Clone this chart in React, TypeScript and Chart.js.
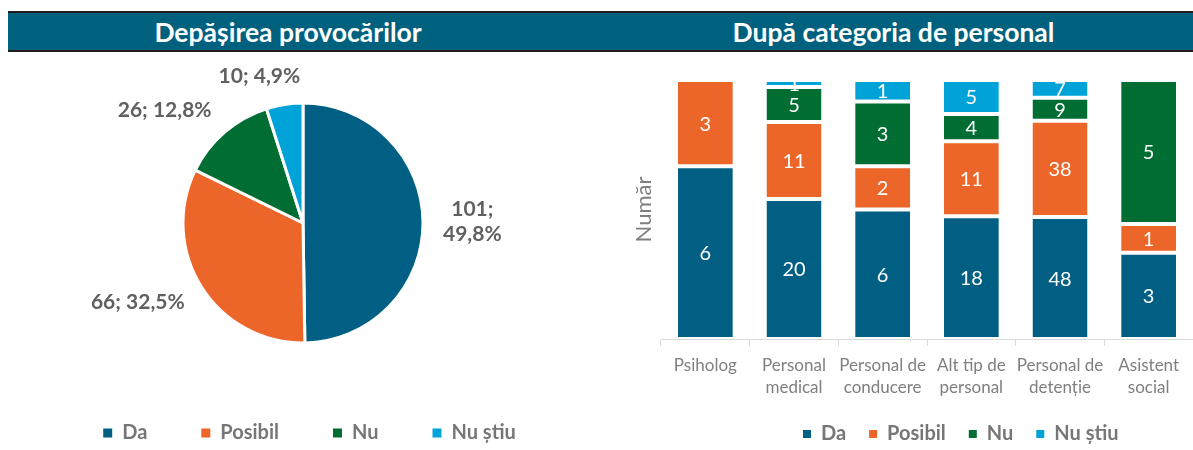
import React, { useEffect, useRef } from "react";
import { Chart, registerables } from "chart.js";

Chart.register(...registerables);

// ---------- data ----------
const SERIES = ["Da", "Posibil", "Nu", "Nu știu"];
const SERIES_COLORS = ["#005f83", "#ec6529", "#006e33", "#00a3d8"];

const PIE_TITLE = "Depășirea provocărilor";
const PIE_VALUES = [101, 66, 26, 10];

const BAR_TITLE = "După categoria de personal";
const BAR_Y_TITLE = "Număr";
const CATEGORIES = [
  ["Psiholog"],
  ["Personal", "medical"],
  ["Personal de", "conducere"],
  ["Alt tip de", "personal"],
  ["Personal de", "detenție"],
  ["Asistent", "social"],
];
const DA = [6, 20, 6, 18, 48, 3];
const POSIBIL = [3, 11, 2, 11, 38, 1];
const NU = [0, 5, 3, 4, 9, 5];
const NU_STIU = [0, 1, 1, 5, 7, 0];
const BAR_SERIES = [DA, POSIBIL, NU, NU_STIU];

// ---------- styles ----------
const FONT = "Lato, 'Open Sans', sans-serif";
const HEADER_BG = "#00617f";
const LEGEND_GREY = "#767676";
const LABEL_GREY = "#606060";
const AXIS_GREY = "#7f7f7f";

const legendShift = {
  id: "legendShift",
  afterLayout(chart: any, _args: any, opts: any) {
    const l = chart.legend;
    if (!l || !opts) return;
    const dx = opts.dx || 0;
    const dy = opts.dy || 0;
    l.left += dx;
    l.right += dx;
    l.top += dy;
    l.bottom += dy;
  },
};

const pieLabels = {
  id: "pieLabels",
  afterDatasetsDraw(chart: any) {
    const ctx = chart.ctx;
    const meta = chart.getDatasetMeta(0);
    const data = chart.data.datasets[0].data as number[];
    const total = data.reduce((a, b) => a + b, 0);
    const lh = 25;
    ctx.save();
    ctx.font = `bold 21px ${FONT}`;
    ctx.fillStyle = LABEL_GREY;
    ctx.textAlign = "center";
    ctx.textBaseline = "middle";
    meta.data.forEach((arc: any, i: number) => {
      const { x, y, startAngle, endAngle, outerRadius } = arc.getProps(
        ["x", "y", "startAngle", "endAngle", "outerRadius"],
        true
      );
      const mid = (startAngle + endAngle) / 2;
      const c = Math.cos(mid);
      const s = Math.sin(mid);
      const pct = ((data[i] / total) * 100).toFixed(1).replace(".", ",");
      const sideways = Math.abs(c) > 0.95;
      const lines = sideways ? [`${data[i]};`, `${pct}%`] : [`${data[i]}; ${pct}%`];
      const w = Math.max(...lines.map((t) => ctx.measureText(t).width));
      const h = lines.length * lh;
      const fx = Math.sign(c) * Math.min(1, Math.abs(c) * 3.5);
      const cx = x + (outerRadius + 20) * c + (w / 2) * fx;
      const cy = y + (outerRadius + 16) * s + (h / 2) * s;
      lines.forEach((t, k) => ctx.fillText(t, cx, cy - h / 2 + lh / 2 + k * lh));
    });
    ctx.restore();
  },
};

const barLabels = {
  id: "barLabels",
  afterDatasetsDraw(chart: any) {
    const ctx = chart.ctx;
    ctx.save();
    ctx.font = `20px ${FONT}`;
    ctx.fillStyle = "#ffffff";
    ctx.textAlign = "center";
    ctx.textBaseline = "middle";
    chart.data.datasets.forEach((_ds: any, di: number) => {
      const meta = chart.getDatasetMeta(di);
      const counts = BAR_SERIES[di];
      meta.data.forEach((bar: any, i: number) => {
        if (!counts[i]) return;
        const { x, y, base } = bar.getProps(["x", "y", "base"], true);
        ctx.fillText(String(counts[i]), x, (y + base) / 2 + 1);
      });
    });
    ctx.restore();
  },
};

export default function App() {
  const pieRef = useRef<HTMLCanvasElement>(null);
  const barRef = useRef<HTMLCanvasElement>(null);

  useEffect(() => {
    const pieDefaultLabels = (Chart as any).overrides.pie.plugins.legend.labels.generateLabels;
    const pie = new Chart(pieRef.current!, {
      type: "pie",
      data: {
        labels: SERIES,
        datasets: [
          {
            data: PIE_VALUES,
            backgroundColor: SERIES_COLORS,
            borderColor: "#ffffff",
            borderWidth: 3,
            radius: 120,
          } as any,
        ],
      },
      options: {
        animation: false,
        responsive: true,
        maintainAspectRatio: false,
        layout: { padding: { top: 22, left: 6, right: 0, bottom: 0 } },
        plugins: {
          legend: {
            position: "bottom",
            labels: {
              boxWidth: 9,
              boxHeight: 9,
              padding: 54,
              color: LEGEND_GREY,
              font: { family: FONT, size: 20, weight: "bold" },
              generateLabels: (c: any) =>
                pieDefaultLabels(c).map((l: any) => ({ ...l, lineWidth: 0 })),
            },
          },
          tooltip: { enabled: false },
          legendShift: { dx: 6.5, dy: 0 },
        } as any,
      },
      plugins: [pieLabels, legendShift],
    });

    const totals = CATEGORIES.map((_, i) => BAR_SERIES.reduce((a, s) => a + s[i], 0));
    const barDefaultLabels = (Chart as any).defaults.plugins.legend.labels.generateLabels;
    const bar = new Chart(barRef.current!, {
      type: "bar",
      data: {
        labels: CATEGORIES,
        datasets: BAR_SERIES.map((vals, k) => ({
          label: SERIES[k],
          data: vals.map((v, i) => (v ? (v / totals[i]) * 100 : null)),
          backgroundColor: SERIES_COLORS[k],
          borderColor: "#ffffff",
          borderWidth: { top: 2, bottom: 2, left: 0, right: 0 },
          borderSkipped: false,
          barPercentage: 0.62,
          categoryPercentage: 1,
        })) as any,
      },
      options: {
        animation: false,
        responsive: true,
        maintainAspectRatio: false,
        layout: { padding: { left: 26.6, top: 25, right: 0, bottom: 0 } },
        scales: {
          x: {
            stacked: true,
            grid: {
              display: true,
              drawOnChartArea: false,
              drawTicks: true,
              tickLength: 7,
              color: "#d9d9d9",
              offset: true,
            },
            border: { display: true, color: "#d9d9d9" },
            ticks: {
              color: AXIS_GREY,
              font: { family: FONT, size: 17, lineHeight: 22 / 17 },
              padding: 9,
              maxRotation: 0,
              autoSkip: false,
            },
          },
          y: {
            stacked: true,
            min: 0,
            max: 100,
            ticks: { display: false },
            grid: { display: false, drawTicks: false },
            border: { display: false },
            title: {
              display: true,
              text: BAR_Y_TITLE,
              color: AXIS_GREY,
              font: { family: FONT, size: 22 },
              padding: { top: 4, bottom: 4 },
            },
          },
        },
        plugins: {
          legend: {
            position: "bottom",
            labels: {
              boxWidth: 8,
              boxHeight: 8,
              padding: 23,
              color: LEGEND_GREY,
              font: { family: FONT, size: 20, weight: "bold" },
              generateLabels: (c: any) =>
                barDefaultLabels(c).map((l: any) => ({ ...l, lineWidth: 0 })),
            },
          },
          tooltip: { enabled: false },
          legendShift: { dx: 51, dy: -7 },
        } as any,
      },
      plugins: [barLabels, legendShift],
    });

    return () => {
      pie.destroy();
      bar.destroy();
    };
  }, []);

  const titleStyle: React.CSSProperties = {
    position: "absolute",
    top: 13,
    height: 37,
    display: "flex",
    alignItems: "center",
    justifyContent: "center",
    color: "#ffffff",
    fontFamily: FONT,
    fontWeight: 700,
    fontSize: 26.5,
    whiteSpace: "nowrap",
  };

  return (
    <div
      style={{
        position: "fixed",
        left: 0,
        top: 0,
        width: 1193,
        height: 450,
        overflow: "hidden",
        background: "#ffffff",
      }}
    >
      <div
        style={{
          position: "absolute",
          left: 8,
          top: 11,
          width: 1185,
          height: 37,
          background: HEADER_BG,
          borderTop: "2px solid #1d1d1d",
          borderBottom: "2px solid #1d1d1d",
        }}
      />
      <div style={{ ...titleStyle, left: 0, width: 576 }}>{PIE_TITLE}</div>
      <div style={{ ...titleStyle, left: 600, width: 587 }}>{BAR_TITLE}</div>
      <div style={{ position: "absolute", left: 0, top: 55, width: 600, height: 398 }}>
        <canvas ref={pieRef} />
      </div>
      <div style={{ position: "absolute", left: 600, top: 55, width: 593, height: 406 }}>
        <canvas ref={barRef} />
      </div>
    </div>
  );
}
